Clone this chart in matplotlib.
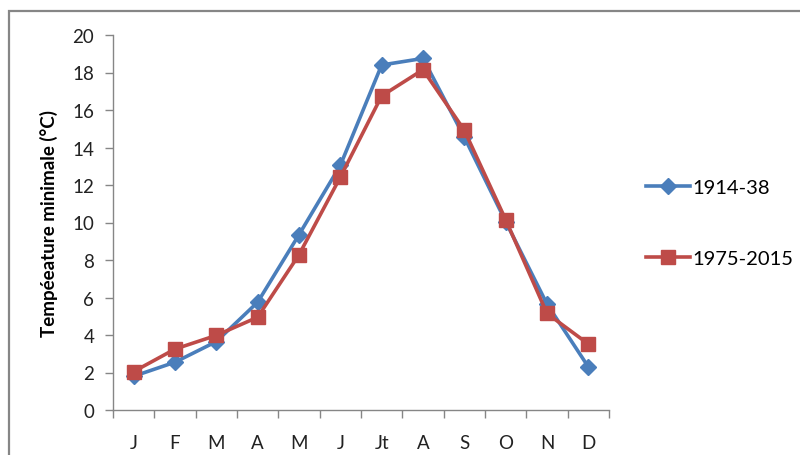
import matplotlib.pyplot as plt
from matplotlib.patches import Rectangle

months = ['J', 'F', 'M', 'A', 'M', 'J', 'Jt', 'A', 'S', 'O', 'N', 'D']
tmin_1914_38 = [1.8, 2.55, 3.65, 5.75, 9.35, 13.05, 18.4, 18.75, 14.55, 10.05, 5.65, 2.3]
tmin_1975_2015 = [2.05, 3.25, 3.98, 4.95, 8.28, 12.42, 16.75, 18.15, 14.92, 10.15, 5.15, 3.52]

plt.rcParams['font.family'] = ['Lato', 'DejaVu Sans']

fig = plt.figure(figsize=(8, 4.56), dpi=100)
ax = fig.add_axes([113/800, 1-411/456, 496/800, 375/456])

x = list(range(len(months)))
ax.plot(x, tmin_1914_38, color='#4A7EBB', lw=2.6, marker='D', markersize=8.5,
        label='1914-38', zorder=3)
ax.plot(x, tmin_1975_2015, color='#BE4B48', lw=2.6, marker='s', markersize=10.5,
        label='1975-2015', zorder=4)

ax.set_xlim(-0.5, 11.5)
ax.set_ylim(0, 20)
ax.set_yticks(range(0, 21, 2))
ax.set_xticks(x)
ax.set_xticklabels(months)
ax.set_xticks([i - 0.5 for i in range(13)], minor=True)
ax.tick_params(axis='x', which='major', length=0, pad=17, labelsize=13.5, colors='#222222')
ax.tick_params(axis='x', which='minor', length=5.5, width=1, color='#868686')
ax.tick_params(axis='y', length=5.5, width=1, color='#868686', pad=8,
               labelsize=13.5, labelcolor='#222222')

for s in ['top', 'right']:
    ax.spines[s].set_visible(False)
for s in ['left', 'bottom']:
    ax.spines[s].set_color('#868686')
    ax.spines[s].set_linewidth(1)

ax.set_ylabel('Tempéeature minimale (°C)', fontsize=13.5, fontweight='bold', labelpad=10)

fig.legend(loc='center left', bbox_to_anchor=(636/800, 1-224/456), frameon=False,
           borderpad=0, handlelength=2.2, handletextpad=0.1, labelspacing=2.65,
           fontsize=14.5)

# outer chart border
fig.patches.append(Rectangle((9/800, -0.2), 1.0, 1.2 - 12/456, transform=fig.transFigure,
                             fill=False, edgecolor='#868686', lw=1.6))

fig.savefig('out.png', dpi=100)
